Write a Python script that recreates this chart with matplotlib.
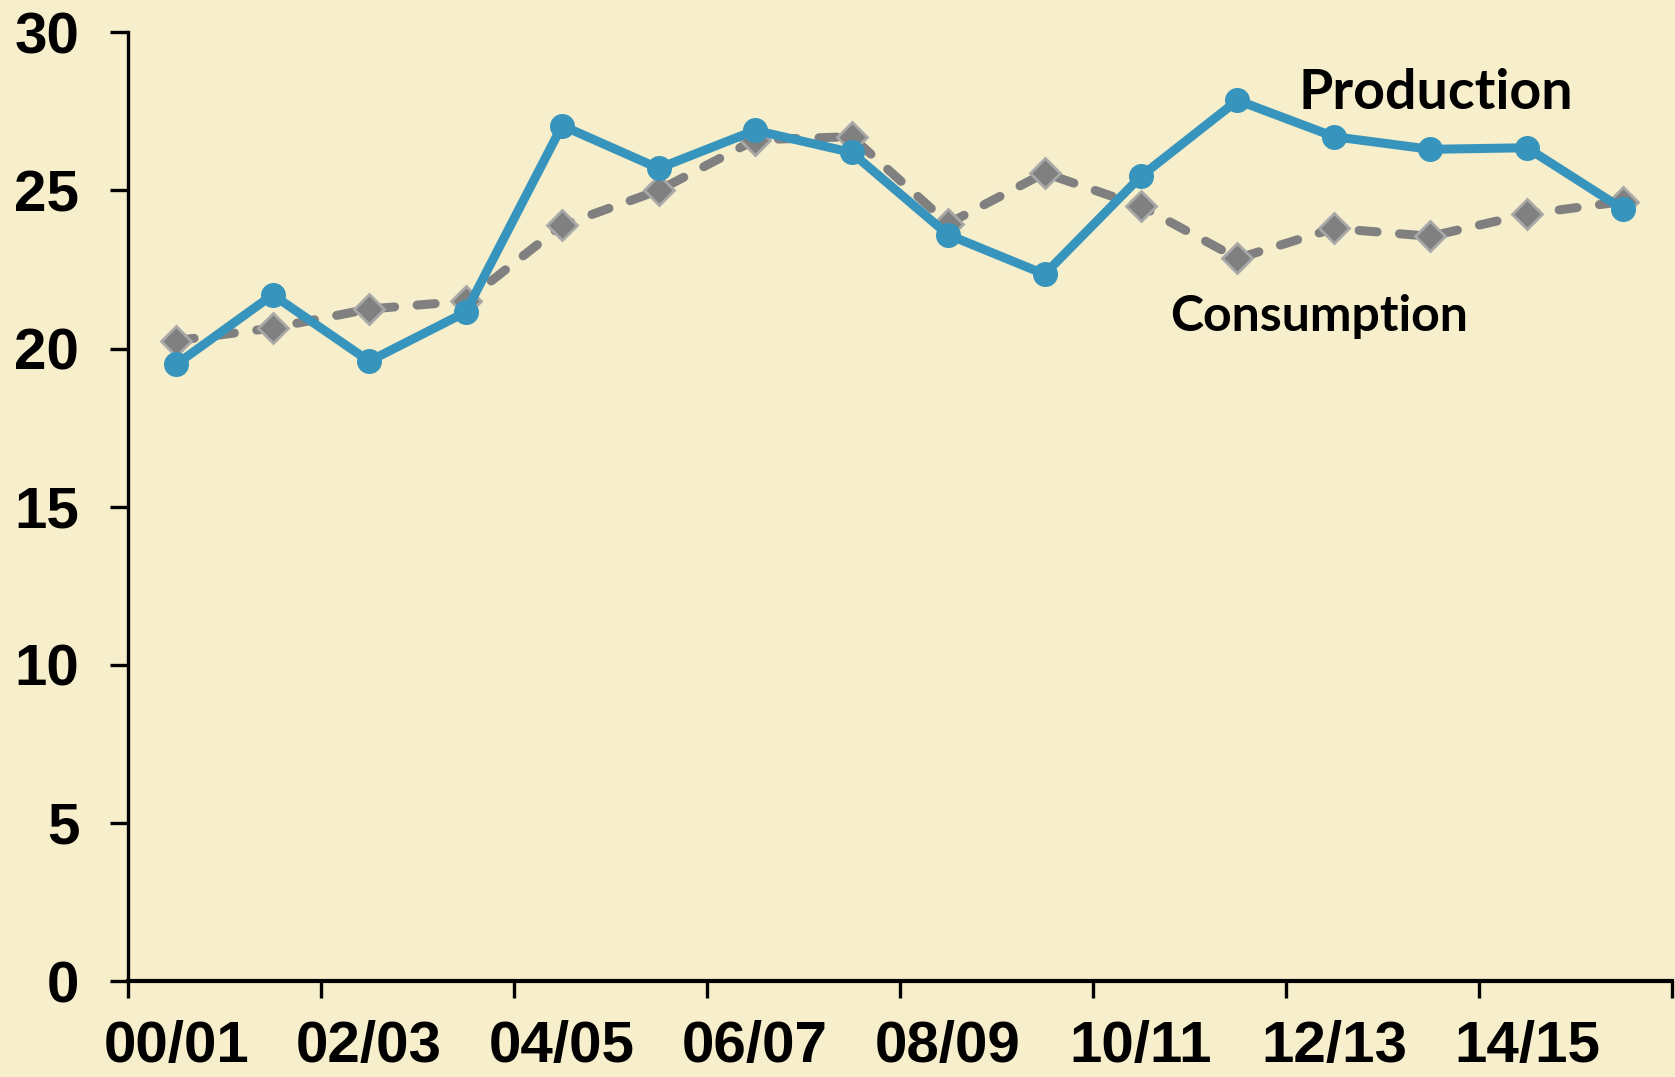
import matplotlib.pyplot as plt
import numpy as np

# dane
seasons = ["00/01", "01/02", "02/03", "03/04", "04/05", "05/06", "06/07", "07/08",
           "08/09", "09/10", "10/11", "11/12", "12/13", "13/14", "14/15", "15/16"]
production = [19.5, 21.7, 19.6, 21.15, 27.05, 25.7, 26.9, 26.2,
              23.6, 22.35, 25.45, 27.85, 26.7, 26.3, 26.35, 24.4]
consumption = [20.25, 20.65, 21.25, 21.5, 23.9, 25.0, 26.6, 26.7,
               23.95, 25.55, 24.5, 22.85, 23.8, 23.55, 24.25, 24.65]
yticks = [0, 5, 10, 15, 20, 25, 30]

bg = "#F7EECB"
blue = "#3795BD"
grey = "#808080"

plt.rcParams["font.family"] = ["Liberation Sans", "DejaVu Sans"]

fig = plt.figure(figsize=(16.75, 10.77), dpi=100, facecolor=bg)
ax = fig.add_axes([0.0764, 0.0891, 0.9216, 0.8809], facecolor=bg)

x = np.arange(len(seasons))
ax.plot(x, consumption, color=grey, lw=6.5, ls=(0, (2.0, 2.5)), dash_capstyle="round",
        marker="D", ms=15, mfc=grey, mec="#A8A8A8", mew=2, zorder=3)
ax.plot(x, production, color=blue, lw=6.5, marker="o", ms=17, mfc=blue, mec=blue,
        solid_joinstyle="round", zorder=4)

ax.set_xlim(-0.5, len(seasons) - 0.5)
ax.set_ylim(0, 30)

# znaczniki na granicach co dwie kategorie, etykiety w srodku kategorii
ax.set_xticks(np.arange(-0.5, len(seasons), 2))
ax.set_xticklabels([])
ax.set_xticks(x[::2], minor=True)
ax.set_xticklabels(seasons[::2], minor=True)
ax.tick_params(axis="x", which="major", length=12, width=2.4, direction="out")
ax.tick_params(axis="x", which="minor", length=0, pad=28, labelsize=42)
ax.set_yticks(yticks)
ax.tick_params(axis="y", length=13, width=2.4, direction="out", pad=22, labelsize=42)
for lab in ax.get_xticklabels(minor=True) + ax.get_yticklabels():
    lab.set_fontweight("bold")

for s in ["top", "right"]:
    ax.spines[s].set_visible(False)
ax.spines["left"].set_linewidth(2.4)
ax.spines["bottom"].set_linewidth(3)

ax.text(0.758, 0.919, "Production", transform=ax.transAxes, fontsize=40,
        fontweight="bold", family=["Lato", "DejaVu Sans"], va="baseline")
ax.text(0.675, 0.685, "Consumption", transform=ax.transAxes, fontsize=36,
        fontweight="bold", family=["Lato", "DejaVu Sans"], va="baseline")

fig.savefig("out.png", dpi=100, facecolor=bg)
